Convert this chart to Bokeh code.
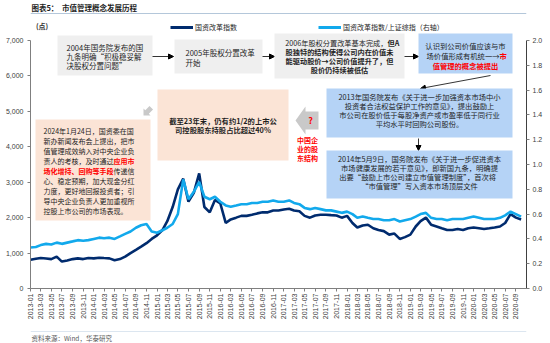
import numpy as np
import pandas as pd
from bokeh.plotting import figure
from bokeh.layouts import column
from bokeh.models import (Range1d, LinearAxis, FixedTicker, DatetimeTickFormatter,
                          NumeralTickFormatter, BoxAnnotation, Label, Arrow, NormalHead, Legend,
                          LegendItem)
from bokeh.embed import file_html
from bokeh.resources import INLINE

# ---------------- data (monthly) ----------------
months = pd.date_range("2013-01-01", periods=94, freq="MS")
soe_index = [810, 840, 860, 845, 830, 900, 760, 790, 830, 850, 830, 860,
             850, 870, 860, 850, 800, 830, 900, 1000, 1090, 1180, 1280, 1400,
             1500, 1650, 1900, 2300, 2800, 3100, 2450, 2700, 3250, 2300, 2150, 2500,
             2400, 1850, 1950, 2000, 2050, 2050, 2080, 2120, 2150, 2150, 2200, 2200,
             2230, 2250, 2200, 2180, 2050, 2000, 2060, 2080, 2080, 2070, 2060, 2000,
             2050, 1850, 1720, 1780, 1800, 1700, 1650, 1620, 1520, 1550, 1400, 1450,
             1520, 1750, 1900, 2000, 1800, 1750, 1700, 1650, 1650, 1680, 1650, 1700,
             1720, 1700, 1680, 1700, 1720, 1750, 1850, 2100, 2000, 1950]
soe_ratio = [0.33, 0.335, 0.35, 0.36, 0.355, 0.37, 0.36, 0.37, 0.38, 0.39, 0.385, 0.39,
             0.40, 0.41, 0.405, 0.41, 0.40, 0.42, 0.44, 0.46, 0.49, 0.51, 0.52, 0.46,
             0.45, 0.47, 0.49, 0.52, 0.60, 0.88, 0.72, 0.78, 0.86, 0.74, 0.72, 0.74,
             0.70, 0.67, 0.66, 0.67, 0.68, 0.68, 0.69, 0.69, 0.70, 0.70, 0.71, 0.70,
             0.70, 0.71, 0.69, 0.68, 0.65, 0.64, 0.65, 0.64, 0.63, 0.63, 0.62, 0.61,
             0.62, 0.60, 0.57, 0.58, 0.57, 0.56, 0.56, 0.55, 0.55, 0.56, 0.54, 0.55,
             0.56, 0.58, 0.60, 0.61, 0.57, 0.56, 0.56, 0.55, 0.56, 0.56, 0.56, 0.57,
             0.58, 0.57, 0.56, 0.56, 0.56, 0.57, 0.59, 0.62, 0.60, 0.58]
series_names = ["国资改革指数", "国资改革指数/上证综指（右轴）"]
tick_labels = [d.strftime("%Y-%m") for d in pd.date_range("2013-01-01", "2020-09-01", freq="2MS")]
left_ticks = [0, 1000, 2000, 3000, 4000, 5000, 6000, 7000]
right_ticks = [0.0, 0.2, 0.4, 0.6, 0.8, 1.0, 1.2, 1.4, 1.6, 1.8, 2.0]

# ---------------- styles ----------------
NAVY = "#002B6E"
CYAN = "#12A9EC"
GRAYBOX = "#EFEFEF"
BLUEBOX = "#B5D3F6"
PEACH = "#FBE4D6"
RED = "#FF0000"
INK = "#1E1E1E"
CJK = "Noto Sans CJK SC"
AXF = "Liberation Sans"
LW = 2.6

W = 550
TOP_H = 32            # strip with title, unit and legend (canvas rows 0..32)
BOT_Y = 325           # footer strip starts here
H_TOTAL = 343
FRAME_L, FRAME_R, FRAME_B = 30, 526, 288   # canvas pixels of main plotting frame
Y_TOP_PIX = 40        # canvas row of the top tick (7,000 / 2.0)
MAIN_H = BOT_Y - TOP_H
frame_h = FRAME_B - TOP_H
span = FRAME_B - Y_TOP_PIX


def bare_fig(h, y0, y1):
    f = figure(width=W, height=h, output_backend="svg", toolbar_location=None,
               x_range=Range1d(0, W), y_range=Range1d(y0, y1),
               x_axis_location=None, y_axis_location=None,
               min_border=0, min_border_left=0, min_border_right=0,
               min_border_top=0, min_border_bottom=0)
    f.outline_line_color = None
    f.xgrid.visible = False
    f.ygrid.visible = False
    f.background_fill_color = "white"
    f.border_fill_color = "white"
    return f


def txt(f, x, y, s, size=7.5, color=INK, bold=False, align="left", rn=None, font=CJK):
    kw = dict(x_range_name=rn[0], y_range_name=rn[1]) if rn else {}
    f.add_layout(Label(x=x, y=y, text=s, text_font=font, text_font_size=f"{size}px",
                       text_color=color, text_font_style="bold" if bold else "normal",
                       text_align=align, text_baseline="middle", **kw))


def arrow(f, x0, y0, x1, y1, head=True, color="#000000", width=0.8, rn=None):
    kw = dict(x_range_name=rn[0], y_range_name=rn[1]) if rn else {}
    f.add_layout(Arrow(x_start=x0, y_start=y0, x_end=x1, y_end=y1, line_color=color,
                       line_width=width,
                       end=NormalHead(size=5, fill_color=color, line_color=color) if head else None,
                       **kw))


# ================= top strip: title, unit, legend =================
top = bare_fig(TOP_H, TOP_H, 0)
arrow(top, 0, 13, W, 13, head=False, color="#B4C7DA", width=1)
txt(top, 1, 7, "图表5：", size=7.5, bold=True)
txt(top, 35, 7, "市值管理概念发展历程", size=7.5, bold=True)
txt(top, 6, 25, "(点)", size=7, bold=True, color="#333333")
# legend renderers: the same series (they fall outside this strip's range, only the key shows)
r1 = top.line(months, soe_index, color=NAVY, line_width=LW + 0.4)
r2 = top.line(months, soe_ratio, color=CYAN, line_width=LW + 0.4)
lg = Legend(items=[LegendItem(label=series_names[0], renderers=[r1]),
                   LegendItem(label=series_names[1], renderers=[r2])],
            orientation="horizontal", location=(140, 0), background_fill_alpha=0,
            border_line_color=None, padding=0, margin=0, spacing=81, glyph_width=23,
            glyph_height=10, label_height=10, label_standoff=2, label_text_font=CJK,
            label_text_font_size="7px", label_text_color="#262626")
top.add_layout(lg, "center")

# ================= main chart =================
p = figure(width=W, height=MAIN_H, output_backend="svg", toolbar_location=None,
           x_axis_type="datetime",
           x_range=Range1d(pd.Timestamp("2013-01-01"), pd.Timestamp("2020-11-01")),
           y_range=Range1d(0, left_ticks[-1] * frame_h / span),
           min_border_left=FRAME_L, min_border_right=W - FRAME_R,
           min_border_top=0, min_border_bottom=BOT_Y - FRAME_B)
p.extra_y_ranges = {"ratio": Range1d(0, right_ticks[-1] * frame_h / span),
                    "py": Range1d(FRAME_B, TOP_H)}
p.extra_x_ranges = {"px": Range1d(FRAME_L, FRAME_R)}
RN = ("px", "py")
p.background_fill_color = "white"
p.border_fill_color = "white"
p.outline_line_color = None
p.xgrid.visible = False
p.ygrid.visible = False


def style_axis(ax):
    ax.axis_line_color = "#7F7F7F"
    ax.axis_line_width = 1
    ax.major_tick_line_color = "#7F7F7F"
    ax.major_tick_out = 3
    ax.major_tick_in = 0
    ax.minor_tick_line_color = None
    ax.major_label_text_font = AXF
    ax.major_label_text_font_size = "7px"
    ax.major_label_text_color = "#404040"


xa = p.xaxis[0]
style_axis(xa)
xa.ticker = FixedTicker(ticks=[pd.Timestamp(s + "-01").value / 1e6 for s in tick_labels])
fmt = "%Y-%m"
xa.formatter = DatetimeTickFormatter(days=fmt, months=fmt, years=fmt, hours=fmt,
                                     hourmin=fmt, minutes=fmt, minsec=fmt, seconds=fmt,
                                     milliseconds=fmt, microseconds=fmt)
xa.major_label_orientation = np.pi / 2
xa.major_label_standoff = 2

ya = p.yaxis[0]
style_axis(ya)
ya.ticker = FixedTicker(ticks=left_ticks)
ya.formatter = NumeralTickFormatter(format="0,0")
ya.bounds = (left_ticks[0], left_ticks[-1])
ya.major_label_standoff = 4

ra = LinearAxis(y_range_name="ratio", ticker=FixedTicker(ticks=right_ticks),
                formatter=NumeralTickFormatter(format="0.0"),
                bounds=(right_ticks[0], right_ticks[-1]))
style_axis(ra)
ra.axis_line_color = "#404040"
ra.major_label_standoff = 3
p.add_layout(ra, "right")

p.line(months, soe_index, color=NAVY, line_width=LW)
p.line(months, soe_ratio, y_range_name="ratio", color=CYAN, line_width=LW)


def box(l, r, t, b, color):
    p.add_layout(BoxAnnotation(left=l, right=r, top=t, bottom=b, x_range_name="px",
                               y_range_name="py", fill_color=color, fill_alpha=1,
                               line_color=None))


def t(x, y, s, **kw):
    txt(p, x, y, s, rn=RN, **kw)


def a(x0, y0, x1, y1, **kw):
    arrow(p, x0, y0, x1, y1, rn=RN, **kw)


# box 1
box(57, 152, 35, 75, GRAYBOX)
t(66, 47, "2004年国务院发布的国")
t(66, 56, "九条明确“积极稳妥解")
t(66, 65, "决股权分置问题”")
a(152, 56, 173, 56)

# box 2
box(174, 262, 39, 73, GRAYBOX)
t(185, 52, "2005年股权分置改革")
t(185, 62, "开始")
a(262, 56, 274, 56)

# box 3
box(274, 404, 33, 78, GRAYBOX)
t(387, 42, "2006年股权分置改革基本完成，", size=7.2, align="right")
t(387, 42, "但A", size=7.2, bold=True)
t(339, 51, "股独特的结构使得公司内在价值未", size=7.2, bold=True, align="center")
t(339, 60, "能驱动股价→公司价值提升了，但", size=7.2, bold=True, align="center")
t(339, 69, "股价仍持续被低估", size=7.2, bold=True, align="center")
a(404, 56, 418, 56)

# box 4
box(418, 512, 33, 73, BLUEBOX)
t(465, 45, "认识到公司价值应该与市", size=7.3, align="center")
t(499, 55, "场价值形成有机统一→", size=7.3, align="right")
t(499, 55, "市", size=7.3, bold=True, color=RED)
t(465, 65, "值管理的概念被提出", size=7.3, bold=True, color=RED, align="center")
a(490, 75, 420, 88)

# box 5
box(326, 512, 88, 137, BLUEBOX)
for i, s in enumerate(["2013年国务院发布《关于进一步加强资本市场中小",
                       "投资者合法权益保护工作的意见》，提出鼓励上",
                       "市公司在股价低于每股净资产或市盈率低于同行业",
                       "平均水平时回购公司股份。"]):
    t(419, 96 + 9 * i, s, size=7.3, align="center")
a(418, 138, 418, 150)

# box 6
box(326, 512, 150, 198, BLUEBOX)
for i, s in enumerate(["2014年5月9日，国务院发布《关于进一步促进资本",
                       "市场健康发展的若干意见》，即新国九条，明确提",
                       "出要“鼓励上市公司建立市值管理制度”，首次将",
                       "“市值管理”写入资本市场顶层文件"]):
    t(419, 158 + 9 * i, s, size=7.3, align="center")

# peach box (shareholding)
box(157, 288, 89, 160, PEACH)
t(222.5, 120, "截至23年末，仍有约1/2的上市公", size=7.3, bold=True, align="center")
t(222.5, 129, "司控股股东持股占比超过40%", size=7.3, bold=True, align="center")

# gray block arrow with question mark
bx = [295, 305, 305, 318, 318, 305, 305]
by = [120, 106, 111, 111, 129, 129, 134]
p.patch(bx, by, x_range_name="px", y_range_name="py", fill_color="#C9C9C9", line_color=None)
t(310, 120, "?", size=9, bold=True, color=RED, align="center")
for i, s in enumerate(["中国企", "业的股", "东结构"]):
    t(307, 139 + 9 * i, s, size=7, bold=True, color=RED, align="center")

# small diagonal gray arrow (pointing down-left)
loc = np.array([(0, 0), (-5, -5), (-5, -2.5), (-11, -2.5), (-11, 2.5), (-5, 2.5), (-5, 5)], float)
th = np.deg2rad(135)
rx = loc[:, 0] * np.cos(th) - loc[:, 1] * np.sin(th) + 143
ry = loc[:, 0] * np.sin(th) + loc[:, 1] * np.cos(th) + 115
p.patch(list(rx), list(ry), x_range_name="px", y_range_name="py", fill_color="#C9C9C9",
        line_color=None)

# peach box (2024)
box(35, 150, 119, 220, PEACH)
lines24 = ["2024年1月24日，国资委在国", "新办新闻发布会上提出，把市", "值管理成效纳入对中央企业负",
           None, None, "心、稳定预期，加大现金分红", "力度，更好地回报投资者；引",
           "导中央企业负责人更加重视所", "控股上市公司的市场表现。"]
for i, s in enumerate(lines24):
    if s is not None:
        t(43, 130 + 10 * i, s, size=7)
t(43, 160, "责人的考核，及时通过", size=7)
t(113, 160, "应用市", size=7, bold=True, color=RED)
t(43, 170, "场化增持、回购等手段", size=7, bold=True, color=RED)
t(113, 170, "传递信", size=7)

# ================= bottom strip: source =================
bot = bare_fig(H_TOTAL - BOT_Y, H_TOTAL, BOT_Y)
arrow(bot, 0, 331, W, 331, head=False, color="#DCE6F0", width=1)
txt(bot, 1, 337, "资料来源：Wind，华泰研究", size=6.5, color="#595959")

layout = column(top, p, bot, spacing=0)
open("out.html", "w").write(file_html(layout, INLINE))
